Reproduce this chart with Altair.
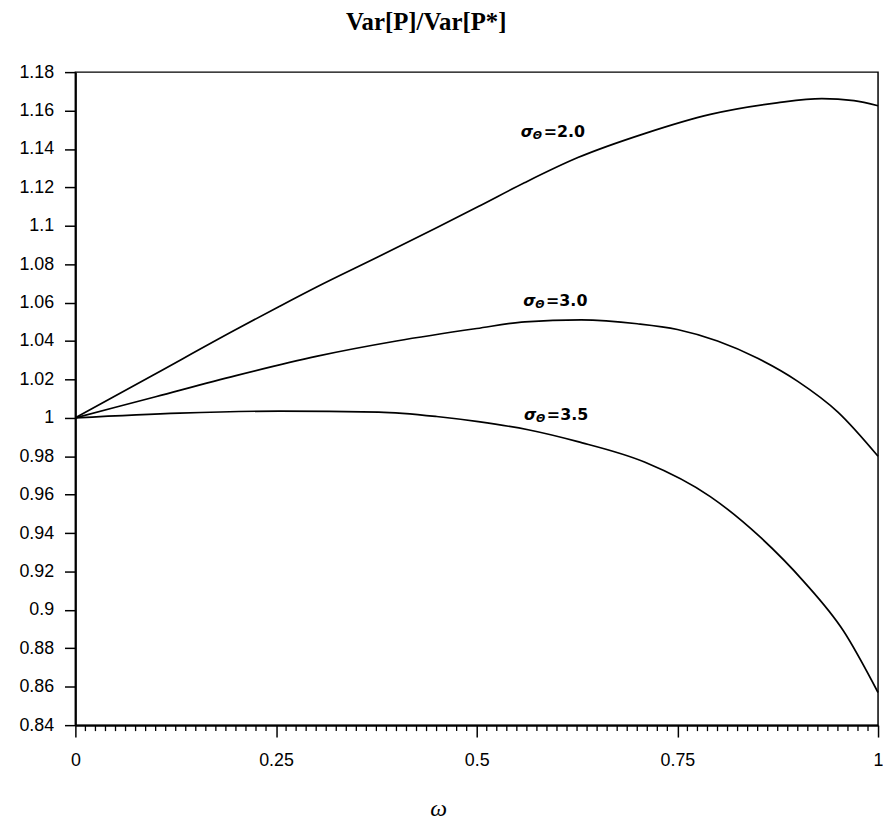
import altair as alt
import pandas as pd

# ---- data ----
w_20 = [0.0, 0.1, 0.2, 0.254, 0.3, 0.378, 0.45, 0.502, 0.56, 0.626, 0.709, 0.791, 0.874, 0.93, 0.97, 1.0]
v_20 = [1.000, 1.023, 1.046, 1.058, 1.068, 1.084, 1.099, 1.110, 1.1225, 1.1355, 1.148, 1.158, 1.164, 1.1662, 1.1652, 1.1625]

w_30 = [0.0, 0.1, 0.2, 0.3, 0.4, 0.5, 0.56, 0.63, 0.7, 0.75, 0.8, 0.85, 0.9, 0.95, 1.0]
v_30 = [1.000, 1.011, 1.022, 1.032, 1.040, 1.0465, 1.050, 1.051, 1.049, 1.046, 1.040, 1.031, 1.019, 1.003, 0.980]

w_35 = [0.0, 0.13, 0.254, 0.378, 0.45, 0.502, 0.564, 0.626, 0.709, 0.791, 0.853, 0.907, 0.957, 1.0]
v_35 = [1.000, 1.0025, 1.0035, 1.003, 1.0007, 0.998, 0.9938, 0.9876, 0.977, 0.959, 0.938, 0.915, 0.889, 0.857]

label_names = ["=2.0", "=3.0", "=3.5"]
label_w = [0.555, 0.558, 0.559]
label_v = [1.149, 1.0608, 1.0015]

x_ticks = [0, 0.25, 0.5, 0.75, 1]
x_minor = [i / 80 for i in range(81) if i % 20 != 0]
y_ticks = [0.84, 0.86, 0.88, 0.9, 0.92, 0.94, 0.96, 0.98, 1.0, 1.02, 1.04, 1.06,
           1.08, 1.1, 1.12, 1.14, 1.16, 1.18]

title_text = "Var[P]/Var[P*]"
x_title = "ω"

# ---- tables ----
rows = []
for name, ws, vs in [("2.0", w_20, v_20), ("3.0", w_30, v_30), ("3.5", w_35, v_35)]:
    for a, b in zip(ws, vs):
        rows.append({"series": name, "w": a, "v": b})
curves = pd.DataFrame(rows)
labels = pd.DataFrame({"w": label_w, "v": label_v, "txt": label_names})
minor = pd.DataFrame({"m": x_minor})

W, H = 810, 659

xscale = alt.Scale(domain=[0, 1], nice=False, zero=False)
yscale = alt.Scale(domain=[0.84, 1.18], nice=False, zero=False)

xaxis = alt.Axis(values=x_ticks, format=".3~g", tickSize=12, tickWidth=1.5, tickColor="black",
                 domainColor="black", domainWidth=2, labelFont="Liberation Sans", labelFontSize=18,
                 labelColor="black", labelPadding=15, grid=False, labelFlush=False,
                 labelOverlap=False,
                 title=x_title, titleFont="Liberation Serif", titleFontStyle="italic",
                 titleFontWeight="normal", titleFontSize=24, titleColor="black",
                 titleX=366, titleY=84, titleBaseline="middle", titleAlign="center")
yaxis = alt.Axis(values=y_ticks, format=".3~g", tickSize=11, tickWidth=1.5, tickColor="black",
                 domainColor="black", domainWidth=2, labelFont="Liberation Sans", labelFontSize=18,
                 labelColor="black", labelPadding=11, grid=False, labelFlush=False,
                 labelOverlap=False, title=None)

lines = alt.Chart(curves).mark_line(color="black", strokeWidth=1.7, interpolate="monotone").encode(
    x=alt.X("w:Q", scale=xscale, axis=xaxis),
    y=alt.Y("v:Q", scale=yscale, axis=yaxis),
    detail="series:N",
)

minor_ticks = alt.Chart(minor).mark_rule(color="black", strokeWidth=1.3).encode(
    x=alt.X("m:Q", scale=xscale, axis=xaxis),
    y=alt.value(H),
    y2=alt.value(H + 6),
)

def lab(text_enc, **kw):
    return alt.Chart(labels).mark_text(align="left", baseline="middle", font="DejaVu Sans",
                                       fontWeight="bold", color="black", **kw).encode(
        x=alt.X("w:Q", scale=xscale, axis=xaxis),
        y=alt.Y("v:Q", scale=yscale, axis=yaxis),
        text=text_enc)

sig = lab(alt.value("σ"), fontSize=16, fontStyle="italic")
theta = lab(alt.value("Θ"), fontSize=11, fontStyle="italic", dx=12, dy=4)
val = lab(alt.Text("txt:N"), fontSize=16, dx=23)

chart = alt.layer(lines, minor_ticks, sig, theta, val).properties(
    width=W, height=H,
    background="white",
    autosize=alt.AutoSizeParams(type="none"),
    padding={"left": 68, "top": 61, "right": 5, "bottom": 92},
    title=alt.TitleParams(title_text, font="Liberation Serif", fontSize=25, fontWeight="bold",
                          color="black", dx=-51, offset=29),
).configure_view(stroke="black", strokeWidth=1.5)

chart.save("out.html", embed_options={"renderer": "svg", "actions": False})
